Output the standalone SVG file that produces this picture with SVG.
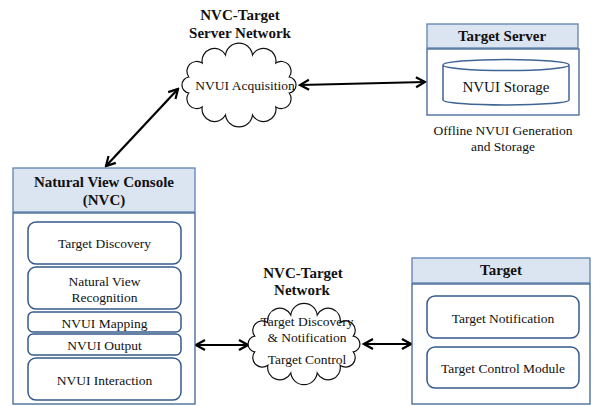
<svg xmlns="http://www.w3.org/2000/svg" width="594" height="406" viewBox="0 0 594 406">
<style>
text{font-family:'Liberation Serif','Times New Roman',Tinos,'Nimbus Roman','DejaVu Serif',serif;fill:#111;text-anchor:middle}
.t{font-size:13.5px}
.b{font-size:15px;font-weight:bold}
.hdr{fill:#dbe4f1;stroke:#5f82b0;stroke-width:1.3}
.body{fill:#fff;stroke:#3f6595;stroke-width:1.3}
.in{fill:#fff;stroke:#35598a;stroke-width:1.5}
.cloud{fill:#fff;stroke:#111;stroke-width:1.2}
.con{stroke:#000;stroke-width:2.2;fill:none;marker-start:url(#ah);marker-end:url(#ah)}
</style>
<defs>
<marker id="ah" viewBox="-12 -7 14 14" markerWidth="14" markerHeight="14" refX="0" refY="0" orient="auto-start-reverse" markerUnits="userSpaceOnUse">
<path d="M-9,-5 L0,0 L-9,5" fill="none" stroke="#000" stroke-width="2.2"/>
</marker>
</defs>
<rect width="594" height="406" fill="#fff"/>

<g id="connectors">
<line class="con" x1="178" y1="89" x2="106" y2="166"/>
<line class="con" x1="300" y1="85" x2="425" y2="82"/>
<line class="con" x1="196" y1="345" x2="248" y2="345"/>
<line class="con" x1="364" y1="344" x2="411" y2="344"/>
</g>

<g id="cloud-server-network">
<text class="b" x="240" y="20">NVC-Target</text>
<text class="b" x="240" y="38">Server Network</text>
<path class="cloud" d="M188.8,77 A9.8,9.8 0 0 1 202.2,63.1 A12.5,12.5 0 0 1 225.5,55 A13.6,13.6 0 0 1 252.5,55 A12.5,12.5 0 0 1 275.8,63.1 A9.8,9.8 0 0 1 289.2,77 A8.1,8.1 0 0 1 289.2,93 A9.8,9.8 0 0 1 275.8,106.9 A12.5,12.5 0 0 1 252.5,115 A13.6,13.6 0 0 1 225.5,115 A12.5,12.5 0 0 1 202.2,106.9 A9.8,9.8 0 0 1 188.8,93 A8.1,8.1 0 0 1 188.8,77 Z"/>
<text class="t" x="245" y="89.5">NVUI  Acquisition</text>
</g>

<g id="target-server">
<rect class="hdr" x="427" y="24" width="151" height="24"/>
<text class="b" x="502" y="41">Target Server</text>
<rect class="body" x="427" y="49" width="152" height="66"/>
<path d="M443,65 A63,5.5 0 0 1 569,65 V100 A63,5 0 0 1 443,100 Z M443,65 A63,5.5 0 0 0 569,65" fill="#fff" stroke="#3f6595" stroke-width="1.5"/>
<text x="506" y="92" style="font-size:15px">NVUI Storage</text>
<text class="t" x="503" y="134.5">Offline NVUI Generation</text>
<text class="t" x="503" y="150.5">and Storage</text>
</g>

<g id="nvc">
<rect class="hdr" x="13" y="168" width="182" height="44"/>
<text class="b" x="104" y="187">Natural View Console</text>
<text class="b" x="104" y="205">(NVC)</text>
<rect class="body" x="13" y="213" width="182" height="191"/>
<rect class="in" x="28" y="222" width="153" height="42" rx="8"/>
<text class="t" x="104.5" y="247.5">Target Discovery</text>
<rect class="in" x="28" y="267" width="153" height="42" rx="8"/>
<text class="t" x="104.5" y="285.5">Natural View</text>
<text class="t" x="104.5" y="301.5">Recognition</text>
<rect class="in" x="28" y="312" width="153" height="20" rx="5"/>
<text class="t" x="104.5" y="327.5">NVUI Mapping</text>
<rect class="in" x="28" y="334" width="153" height="21" rx="5"/>
<text class="t" x="104.5" y="349.5">NVUI Output</text>
<rect class="in" x="28" y="358" width="153" height="42" rx="8"/>
<text class="t" x="104.5" y="384.5">NVUI Interaction</text>
</g>

<g id="cloud-target-network">
<text class="b" x="303" y="278">NVC-Target</text>
<text class="b" x="302" y="295">Network</text>
<path class="cloud" d="M254.7,336.2 A9.5,9.5 0 0 1 267.9,322.8 A12.2,12.2 0 0 1 290.8,315 A13.3,13.3 0 0 1 317.2,315 A12.2,12.2 0 0 1 340.1,322.8 A9.5,9.5 0 0 1 353.3,336.2 A7.9,7.9 0 0 1 353.3,351.8 A9.5,9.5 0 0 1 340.1,365.2 A12.2,12.2 0 0 1 317.2,373 A13.3,13.3 0 0 1 290.8,373 A12.2,12.2 0 0 1 267.9,365.2 A9.5,9.5 0 0 1 254.7,351.8 A7.9,7.9 0 0 1 254.7,336.2 Z"/>
<text class="t" x="307" y="325.5">Target Discovery</text>
<text class="t" x="307" y="341.5">&amp; Notification</text>
<text class="t" x="307" y="363.5">Target Control</text>
</g>

<g id="target">
<rect class="hdr" x="412" y="258" width="178" height="25"/>
<text class="b" x="501" y="275">Target</text>
<rect class="body" x="412" y="284" width="178" height="120"/>
<rect class="in" x="427" y="296" width="152" height="42" rx="8"/>
<text class="t" x="503" y="322.5">Target Notification</text>
<rect class="in" x="427" y="347" width="152" height="41" rx="8"/>
<text class="t" x="503" y="372.5">Target Control Module</text>
</g>
</svg>
